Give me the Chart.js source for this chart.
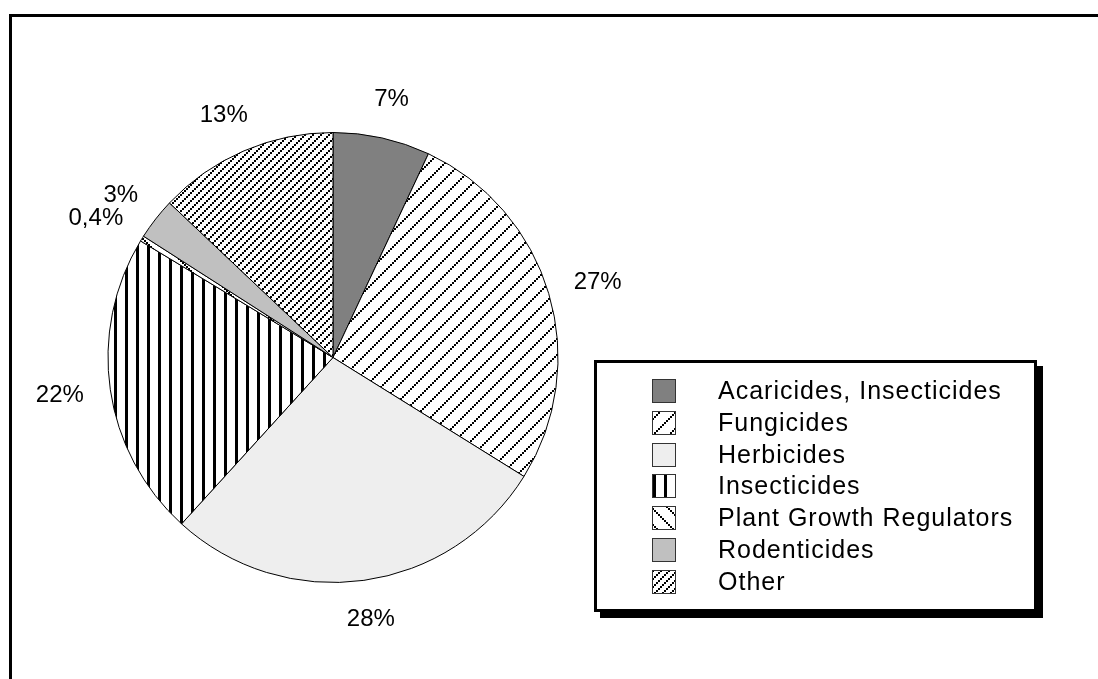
<!DOCTYPE html>
<html>
<head>
<meta charset="utf-8">
<style>
  html, body { margin: 0; padding: 0; background: #fff; }
  #wrap { width: 1098px; height: 679px; position: relative; }
  canvas { display: block; }
</style>
<script src="https://cdn.jsdelivr.net/npm/chart.js@4/dist/chart.umd.min.js"></script>
</head>
<body>
<div id="wrap"><canvas id="pie" width="1098" height="679"></canvas></div>
<script>
// Pesticide use by product group (share of total, %)
const categories = [
  'Acaricides, Insecticides',
  'Fungicides',
  'Herbicides',
  'Insecticides',
  'Plant Growth Regulators',
  'Rodenticides',
  'Other'
];
const shares = [7, 27, 28, 22, 0.4, 3, 13];
const shareLabels = shares.map(v => String(v).replace('.', ',') + '%');

// ---- fill patterns ----
function tile(size, draw) {
  const c = document.createElement('canvas');
  c.width = size; c.height = size;
  const g = c.getContext('2d');
  g.fillStyle = '#fff';
  g.fillRect(0, 0, size, size);
  g.fillStyle = '#000';
  draw(g, size);
  return document.getElementById('pie').getContext('2d').createPattern(c, 'repeat');
}
// rising diagonal made of 2px steps
function rising(g, n) {
  for (let j = 0; j < n / 2; j++) g.fillRect(2 * j, n - 2 - 2 * j, 2, 2);
}
// heavier rising diagonal
function risingBold(g, n) {
  for (let j = 0; j < n / 2; j++) {
    g.fillRect(2 * j, n - 2 - 2 * j, 2, 2);
    g.fillRect((2 * j + 1) % n, (2 * n - 2 - 2 * j) % n, 1, 1);
  }
}
// falling diagonal made of 2px steps
function falling(g, n) {
  for (let j = 0; j < n / 2; j++) g.fillRect(2 * j, 2 * j, 2, 2);
}
const fills = [
  '#808080',
  tile(16, risingBold),
  '#eeeeee',
  tile(11, (g) => g.fillRect(4, 0, 3, 11)),
  tile(16, falling),
  '#c0c0c0',
  tile(8, risingBold)
];

// ---- frame lines ----
const framePlugin = {
  id: 'frame',
  beforeDraw(chart) {
    const ctx = chart.ctx;
    ctx.save();
    ctx.fillStyle = '#fff';
    ctx.fillRect(0, 0, chart.width, chart.height);
    ctx.fillStyle = '#000';
    ctx.fillRect(9, 14, chart.width - 9, 3);
    ctx.fillRect(9, 14, 3, chart.height - 14);
    ctx.restore();
  }
};

// ---- percentage labels outside the slices ----
const labelPlugin = {
  id: 'sliceLabels',
  afterDatasetsDraw(chart) {
    const ctx = chart.ctx;
    const meta = chart.getDatasetMeta(0);
    ctx.save();
    ctx.font = '24px "Liberation Sans", Arial, sans-serif';
    ctx.fillStyle = '#000';
    ctx.textAlign = 'center';
    ctx.textBaseline = 'middle';
    meta.data.forEach((arc, i) => {
      const p = arc.getProps(['x', 'y', 'startAngle', 'endAngle', 'outerRadius'], true);
      const mid = (p.startAngle + p.endAngle) / 2;
      const r = p.outerRadius + 27;
      const txt = shareLabels[i];
      const w = ctx.measureText(txt).width;
      const h = 24;
      const cx = p.x + r * Math.cos(mid) + (w / 2) * Math.cos(mid);
      const cy = p.y + r * Math.sin(mid) + (h / 2) * Math.sin(mid);
      ctx.fillText(txt, cx, cy);
    });
    ctx.restore();
  }
};

// ---- boxed legend with drop shadow ----
const legendPlugin = {
  id: 'boxLegend',
  afterDraw(chart) {
    const ctx = chart.ctx;
    const bx = 594, by = 360, bw = 443, bh = 252;
    ctx.save();
    ctx.fillStyle = '#000';
    ctx.fillRect(bx + 6, by + 6, bw, bh);
    ctx.fillStyle = '#fff';
    ctx.fillRect(bx, by, bw, bh);
    ctx.lineWidth = 3;
    ctx.strokeStyle = '#000';
    ctx.strokeRect(bx + 1.5, by + 1.5, bw - 3, bh - 3);

    ctx.font = '25px "Liberation Sans", Arial, sans-serif';
    ctx.letterSpacing = '1px';
    ctx.textAlign = 'left';
    ctx.textBaseline = 'middle';
    const ds = chart.data.datasets[0];
    categories.forEach((name, i) => {
      const sy = Math.round(379 + i * 31.8);
      ctx.fillStyle = ds.backgroundColor[i];
      ctx.fillRect(652, sy, 24, 24);
      ctx.lineWidth = 1;
      ctx.strokeStyle = '#333';
      ctx.strokeRect(652.5, sy + 0.5, 23, 23);
      ctx.fillStyle = '#000';
      ctx.fillText(name, 718, sy + 13);
    });
    ctx.restore();
  }
};

new Chart(document.getElementById('pie'), {
  type: 'pie',
  data: {
    labels: categories,
    datasets: [{
      data: shares,
      backgroundColor: fills,
      borderColor: '#000',
      borderWidth: 1
    }]
  },
  options: {
    responsive: false,
    devicePixelRatio: 1,
    animation: false,
    layout: { padding: { left: 107, right: 539, top: 132, bottom: 96 } },
    plugins: {
      legend: { display: false },
      tooltip: { enabled: false }
    }
  },
  plugins: [framePlugin, labelPlugin, legendPlugin]
});
</script>
</body>
</html>
